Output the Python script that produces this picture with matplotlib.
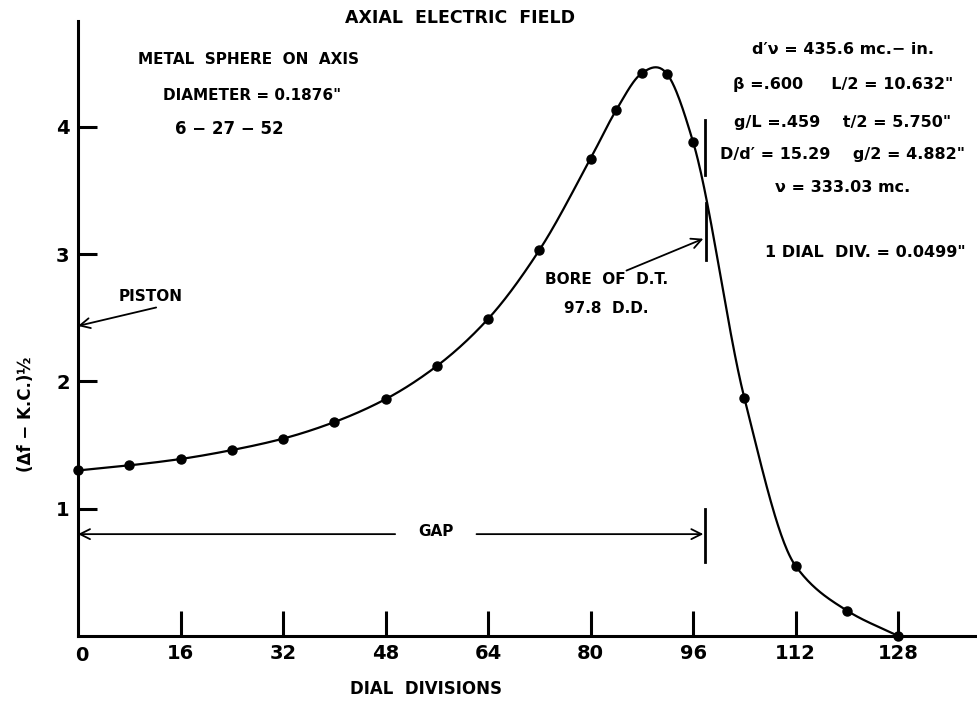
import numpy as np
import matplotlib.pyplot as plt

# measured points (dial divisions vs (delta f - K.C.)^1/2)
dial = [0, 8, 16, 24, 32, 40, 48, 56, 64, 72, 80, 84, 88, 92, 96, 104, 112, 120, 128]
field = [1.30, 1.34, 1.39, 1.46, 1.55, 1.68, 1.86, 2.12, 2.49, 3.03, 3.75,
         4.13, 4.42, 4.41, 3.88, 1.87, 0.55, 0.20, 0.0]

xticks = [16, 32, 48, 64, 80, 96, 112, 128]
yticks = [1, 2, 3, 4]

bore = 97.8          # bore of drift tube, dial divisions
gap_y = 0.8


def smooth(x, y, n=800):
    # piecewise cubic hermite through the measured points, only for drawing
    # the faired curve (monotone slopes, centred slopes round the maximum)
    x = np.asarray(x, float)
    y = np.asarray(y, float)
    h = np.diff(x)
    d = np.diff(y) / h
    m = np.zeros(len(x))
    m[0], m[-1] = d[0], d[-1]
    for i in range(1, len(x) - 1):
        near_peak = d[i - 1] * d[i] <= 0
        if i >= 2 and d[i - 2] * d[i - 1] <= 0:
            near_peak = True
        if i + 1 < len(d) and d[i] * d[i + 1] <= 0:
            near_peak = True
        if near_peak:
            m[i] = (y[i + 1] - y[i - 1]) / (x[i + 1] - x[i - 1])
        else:
            w1 = 2 * h[i] + h[i - 1]
            w2 = h[i] + 2 * h[i - 1]
            m[i] = (w1 + w2) / (w1 / d[i - 1] + w2 / d[i])
    xs = np.linspace(x[0], x[-1], n)
    k = np.clip(np.searchsorted(x, xs) - 1, 0, len(x) - 2)
    t = (xs - x[k]) / h[k]
    h00 = 2 * t**3 - 3 * t**2 + 1
    h10 = t**3 - 2 * t**2 + t
    h01 = 1 - h00
    h11 = t**3 - t**2
    ys = h00 * y[k] + h10 * h[k] * m[k] + h01 * y[k + 1] + h11 * h[k] * m[k + 1]
    return xs, ys


plt.rcParams['font.family'] = 'DejaVu Sans'
plt.rcParams['font.weight'] = 'bold'

fig = plt.figure(figsize=(9.77, 7.02), dpi=100)
ax = fig.add_axes([78 / 977, 66 / 702, 897 / 977, 615 / 702])

xs, ys = smooth(dial, field)
ax.plot(xs, ys, color='black', lw=1.6, clip_on=False)
ax.plot(dial, field, 'o', color='black', ms=6.5, clip_on=False)

ax.set_xlim(0, 140)
ax.set_ylim(0, 4.83)
for s in ['top', 'right']:
    ax.spines[s].set_visible(False)
for s in ['left', 'bottom']:
    ax.spines[s].set_linewidth(2.2)

ax.set_xticks(xticks)
ax.set_yticks(yticks)
ax.tick_params(axis='x', direction='in', length=18, width=2.2, labelsize=14, pad=6)
ax.tick_params(axis='y', direction='in', length=14, width=2.2, labelsize=14, pad=6)
for lab in ax.get_xticklabels() + ax.get_yticklabels():
    lab.set_fontweight('bold')
ax.text(0.6, -0.075, '0', ha='center', va='top', fontsize=14, fontweight='bold')

ax.set_xlabel('DIAL  DIVISIONS', fontsize=12, fontweight='bold')
ax.xaxis.set_label_coords(0.388, -0.072)
ax.set_ylabel('(Δf − K.C.)½', fontsize=12, fontweight='bold')
ax.yaxis.set_label_coords(-0.048, 0.36)

fig.text(460 / 977, 1 - 18 / 702, 'AXIAL  ELECTRIC  FIELD', ha='center', va='center',
         fontsize=12.5, fontweight='bold')

# left notes
fig.text(249 / 977, 1 - 60 / 702, 'METAL  SPHERE  ON  AXIS', ha='center', va='center',
         fontsize=11, fontweight='bold')
fig.text(252 / 977, 1 - 95 / 702, 'DIAMETER = 0.1876"', ha='center', va='center',
         fontsize=11, fontweight='bold')
fig.text(229 / 977, 1 - 129 / 702, '6 − 27 − 52', ha='center', va='center',
         fontsize=12, fontweight='bold')

# right notes
notes = ["d′ν = 435.6 mc.− in.",
         'β =.600     L/2 = 10.632"',
         'g/L =.459    t/2 = 5.750"',
         'D/d′ = 15.29    g/2 = 4.882"',
         'ν = 333.03 mc.']
note_y = [50, 85, 122, 155, 188]
for t, yy in zip(notes, note_y):
    fig.text(843 / 977, 1 - yy / 702, t, ha='center', va='center',
             fontsize=11.5, fontweight='bold')
fig.text(865 / 977, 1 - 252 / 702, '1 DIAL  DIV. = 0.0499"', ha='center', va='center',
         fontsize=11.5, fontweight='bold')

arrow = dict(arrowstyle='->', color='black', lw=1.3, mutation_scale=18, shrinkA=0, shrinkB=0)

# bore of drift tube marker
ax.plot([bore, bore], [3.62, 4.05], color='black', lw=2)
ax.plot([bore + 0.2, bore + 0.2], [2.95, 3.40], color='black', lw=2)
ax.annotate('', xy=(bore - 0.2, 3.12), xytext=(85.6, 2.87), arrowprops=arrow)
ax.text(82.5, 2.80, 'BORE  OF  D.T.', ha='center', va='center', fontsize=11, fontweight='bold')
ax.text(82.5, 2.57, '97.8  D.D.', ha='center', va='center', fontsize=11, fontweight='bold')

# piston
ax.annotate('', xy=(0, 2.435), xytext=(12.2, 2.58), arrowprops=arrow)
ax.text(11.3, 2.67, 'PISTON', ha='center', va='center', fontsize=11, fontweight='bold')

# gap
ax.annotate('', xy=(0, gap_y), xytext=(49.5, gap_y), arrowprops=arrow)
ax.annotate('', xy=(bore - 0.2, gap_y), xytext=(62.2, gap_y), arrowprops=arrow)
ax.text(55.8, gap_y + 0.02, 'GAP', ha='center', va='center', fontsize=11, fontweight='bold')
ax.plot([bore, bore], [0.58, 1.0], color='black', lw=2)

fig.savefig('out.png', dpi=100)
